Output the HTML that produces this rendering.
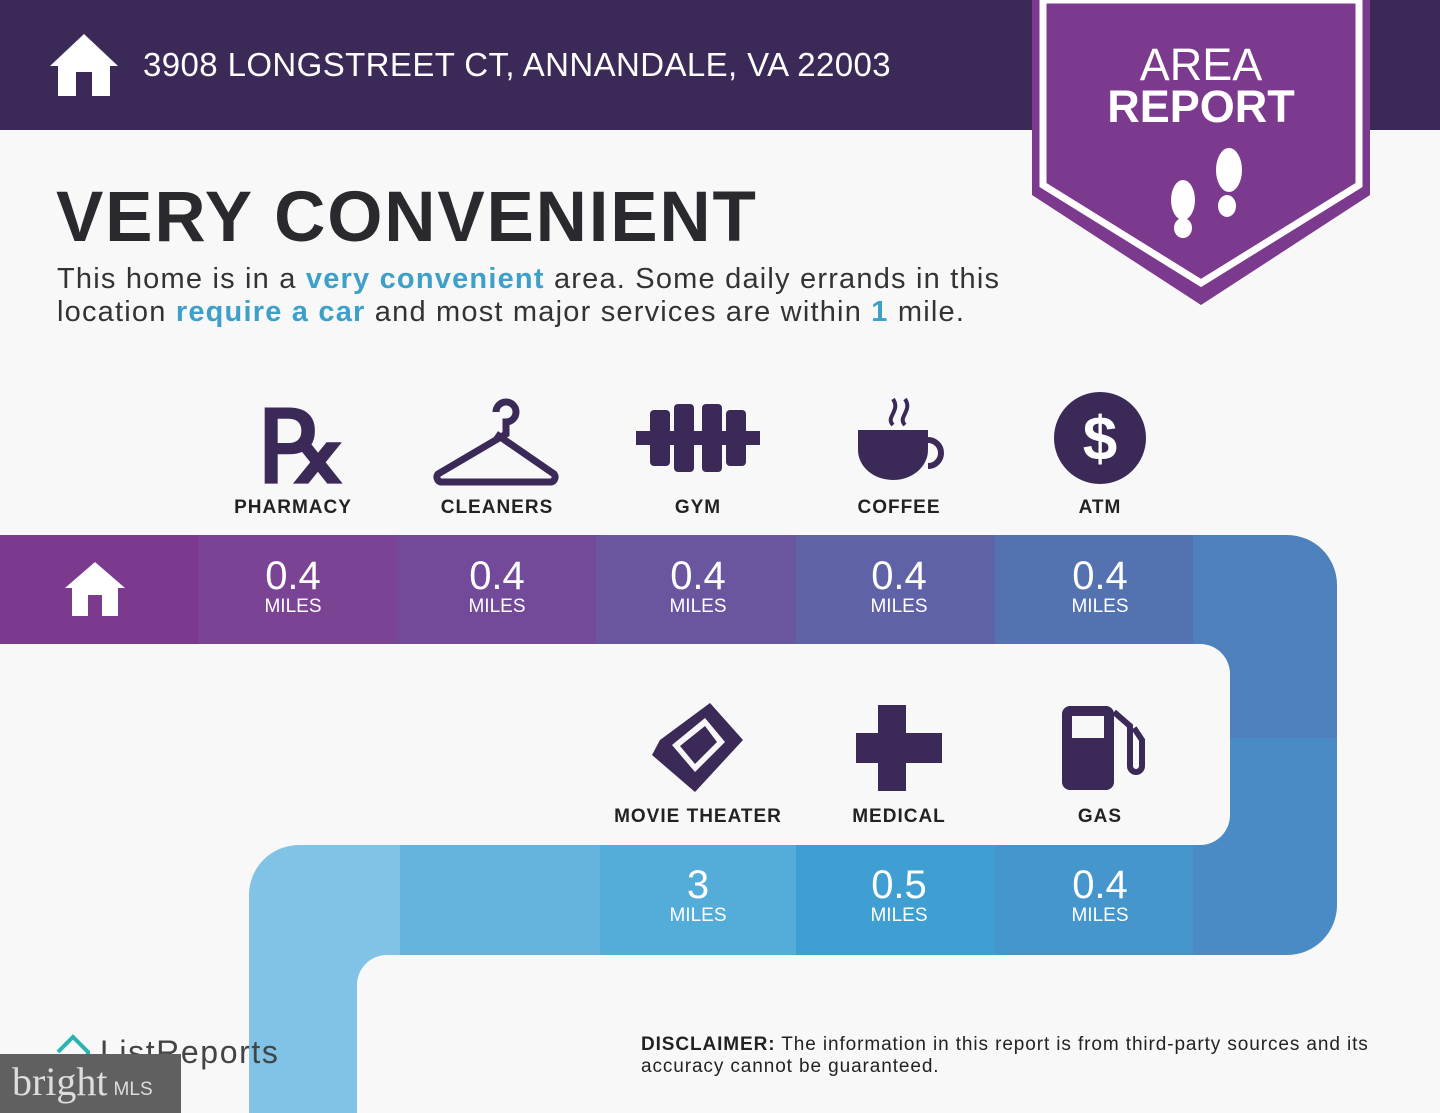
<!DOCTYPE html>
<html><head><style>
body{margin:0;width:1440px;height:1113px;overflow:hidden;background:#f8f8f9;font-family:"Liberation Sans",sans-serif;}
.t{position:absolute;white-space:nowrap}
.l{letter-spacing:1px}
</style></head><body>
<svg width="1440" height="1113" style="position:absolute;left:0;top:0">
<rect x="0" y="0" width="1440" height="130" fill="#3b2a58"/>
<path d="M50 66 L84 34 L118 66 L110 66 L110 96 L58 96 L58 66 Z" fill="#fff"/>
<rect x="76" y="72" width="16" height="24" fill="#3b2a58"/>
<polygon points="1032,0 1370,0 1370,195 1201,305 1032,195" fill="#7c3a8e"/>
<polygon points="1043,0 1359,0 1359,185 1201,283 1043,185" fill="none" stroke="#fff" stroke-width="7"/>
<ellipse cx="1183" cy="200" rx="12" ry="20" fill="#fff"/><ellipse cx="1183" cy="228" rx="9" ry="10" fill="#fff"/>
<ellipse cx="1229" cy="170" rx="13" ry="22" fill="#fff"/><ellipse cx="1227" cy="206" rx="9" ry="11" fill="#fff"/>
<rect x="0" y="535" width="198" height="109" fill="#7b3a8e"/>
<rect x="198" y="535" width="199" height="109" fill="#7a4394"/>
<rect x="397" y="535" width="199" height="109" fill="#734a9a"/>
<rect x="596" y="535" width="200" height="109" fill="#6a559f"/>
<rect x="796" y="535" width="199" height="109" fill="#6062a7"/>
<rect x="995" y="535" width="198" height="109" fill="#5572b0"/>
<path d="M1193 535 H1287 A50 50 0 0 1 1337 585 V738 H1230 V674 A30 30 0 0 0 1200 644 H1193 Z" fill="#4e80bc"/>
<path d="M1230 738 H1337 V905 A50 50 0 0 1 1287 955 H1193 V845 H1200 A30 30 0 0 0 1230 815 Z" fill="#4a8bc5"/>
<rect x="995" y="845" width="198" height="110" fill="#4596cc"/>
<rect x="796" y="845" width="199" height="110" fill="#3f9fd3"/>
<rect x="600" y="845" width="196" height="110" fill="#54acd9"/>
<rect x="400" y="845" width="200" height="110" fill="#66b4de"/>
<path d="M400 845 H299 A50 50 0 0 0 249 895 V1113 H357 V985 A30 30 0 0 1 387 955 H400 Z" fill="#80c3e6"/>
<path d="M65 588 L95 562 L125 588 L118 588 L118 616 L72 616 L72 588 Z" fill="#fff"/>
<rect x="88" y="595" width="14" height="21" fill="#7b3a8e"/>
<g fill="#3b2a58" stroke="#3b2a58">
<text x="258" y="482" font-size="100" font-weight="bold" stroke="none" font-family="Liberation Sans">℞</text>
<path d="M496 412 a10 10 0 1 1 10 10 v12 L438 474 a5 5 0 0 0 3 8 h110 a5 5 0 0 0 3 -8 L496 434" fill="none" stroke-width="7"/>
<rect x="636" y="431" width="124" height="14" stroke="none"/>
<rect x="650" y="410" width="20" height="56" rx="4" stroke="none"/><rect x="674" y="404" width="20" height="68" rx="4" stroke="none"/>
<rect x="702" y="404" width="20" height="68" rx="4" stroke="none"/><rect x="726" y="410" width="20" height="56" rx="4" stroke="none"/>
<path d="M858 430 h70 v20 a35 30 0 0 1 -70 0 Z" stroke="none"/>
<path d="M928 440 a12 12 0 1 1 0 26" fill="none" stroke-width="6"/>
<path d="M893 425 c-8 -8 8 -14 0 -26 M905 425 c-8 -8 8 -14 0 -26" fill="none" stroke-width="4"/>
<circle cx="1100" cy="438" r="46" stroke="none"/>
<path d="M660 740 L710 703 L743 740 L695 792 L652 755 Z" stroke="none"/>
<path d="M672 745 L705 718 L725 742 L695 772 Z" fill="#f8f8f9" stroke="none"/>
<path d="M680 746 L705 726 L717 742 L695 764 Z" stroke="none"/>
<path d="M878 705 h28 v28 h36 v30 h-36 v28 h-28 v-28 h-22 v-30 h22 Z" stroke="none"/>
<rect x="1062" y="706" width="52" height="84" rx="8" stroke="none"/>
<rect x="1072" y="716" width="32" height="22" fill="#f8f8f9" stroke="none"/>
<path d="M1114 712 l16 14 v40 a6 6 0 0 0 12 0 v-26 l-8 -12" fill="none" stroke-width="6"/>
</g>
<text x="1100" y="460" font-size="62" font-weight="bold" fill="#fff" text-anchor="middle">$</text>
</svg>
<div class="t" style="left:143px;top:46px;font-size:33px;color:#fff;letter-spacing:0.4px">3908 LONGSTREET CT, ANNANDALE, VA 22003</div>
<div class="t" style="left:1090px;top:44px;width:222px;text-align:center;font-size:45px;line-height:42px;color:#fff">AREA<br><b>REPORT</b></div>
<div class="t" style="left:56px;top:177px;font-size:71px;font-weight:bold;color:#2a2a2e;letter-spacing:1.8px">VERY CONVENIENT</div>
<div class="t" style="left:57px;top:263px;font-size:29px;line-height:33px;color:#333;letter-spacing:1.2px">This home is in a <b style="color:#3da0c9">very convenient</b> area. Some daily errands in this<br>location <b style="color:#3da0c9">require a car</b> and most major services are within <b style="color:#3da0c9">1</b> mile.</div>
<div class="t l" style="left:193px;top:497px;width:200px;text-align:center;font-size:19px;font-weight:bold;color:#222">PHARMACY</div>
<div class="t l" style="left:397px;top:497px;width:200px;text-align:center;font-size:19px;font-weight:bold;color:#222">CLEANERS</div>
<div class="t l" style="left:598px;top:497px;width:200px;text-align:center;font-size:19px;font-weight:bold;color:#222">GYM</div>
<div class="t l" style="left:799px;top:497px;width:200px;text-align:center;font-size:19px;font-weight:bold;color:#222">COFFEE</div>
<div class="t l" style="left:1000px;top:497px;width:200px;text-align:center;font-size:19px;font-weight:bold;color:#222">ATM</div>
<div class="t l" style="left:598px;top:806px;width:200px;text-align:center;font-size:19px;font-weight:bold;color:#222">MOVIE THEATER</div>
<div class="t l" style="left:799px;top:806px;width:200px;text-align:center;font-size:19px;font-weight:bold;color:#222">MEDICAL</div>
<div class="t l" style="left:1000px;top:806px;width:200px;text-align:center;font-size:19px;font-weight:bold;color:#222">GAS</div>
<div class="t" style="left:193px;top:555px;width:200px;text-align:center;color:#fff;font-size:40px;line-height:42px">0.4<div style="font-size:19px;line-height:20px">MILES</div></div>
<div class="t" style="left:397px;top:555px;width:200px;text-align:center;color:#fff;font-size:40px;line-height:42px">0.4<div style="font-size:19px;line-height:20px">MILES</div></div>
<div class="t" style="left:598px;top:555px;width:200px;text-align:center;color:#fff;font-size:40px;line-height:42px">0.4<div style="font-size:19px;line-height:20px">MILES</div></div>
<div class="t" style="left:799px;top:555px;width:200px;text-align:center;color:#fff;font-size:40px;line-height:42px">0.4<div style="font-size:19px;line-height:20px">MILES</div></div>
<div class="t" style="left:1000px;top:555px;width:200px;text-align:center;color:#fff;font-size:40px;line-height:42px">0.4<div style="font-size:19px;line-height:20px">MILES</div></div>
<div class="t" style="left:598px;top:864px;width:200px;text-align:center;color:#fff;font-size:40px;line-height:42px">3<div style="font-size:19px;line-height:20px">MILES</div></div>
<div class="t" style="left:799px;top:864px;width:200px;text-align:center;color:#fff;font-size:40px;line-height:42px">0.5<div style="font-size:19px;line-height:20px">MILES</div></div>
<div class="t" style="left:1000px;top:864px;width:200px;text-align:center;color:#fff;font-size:40px;line-height:42px">0.4<div style="font-size:19px;line-height:20px">MILES</div></div>
<div class="t" style="left:641px;top:1034px;font-size:19px;line-height:22px;color:#222;letter-spacing:0.9px"><b>DISCLAIMER:</b> The information in this report is from third-party sources and its<br>accuracy cannot be guaranteed.</div>
<svg width="40" height="40" style="position:absolute;left:55px;top:1032px"><path d="M3 20 L18 5 L33 20 V35" fill="none" stroke="#2bb5b0" stroke-width="4"/></svg>
<div class="t" style="left:100px;top:1034px;font-size:32px;color:#444;letter-spacing:1.6px">ListReports</div>
<div class="t" style="left:0;top:1054px;width:181px;height:59px;background:#606060"></div>
<div class="t" style="left:12px;top:1058px;font-size:40px;font-family:'Liberation Serif',serif;color:#ddd">bright<span style="font-family:'Liberation Sans';font-size:19px;margin-left:6px">MLS</span></div>
</body></html>
